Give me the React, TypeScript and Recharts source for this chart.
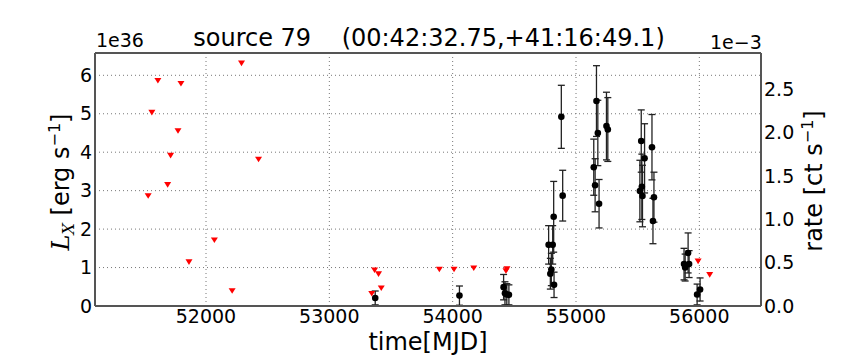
import {
  CartesianGrid,
  ComposedChart,
  ErrorBar,
  ReferenceLine,
  Scatter,
  XAxis,
  YAxis,
} from "recharts";

// upper limits (red triangles), L_X in 1e36 erg/s
const LIMIT_MJD = [
  51531, 51561, 51610, 51689, 51713, 51773, 51797, 51862, 52068, 52212, 52288,
  52426, 53344, 53367, 53399, 53421, 53892, 54011, 54171, 54432, 54440, 55990,
  56084,
];
const LIMIT_LX = [
  2.86, 5.03, 5.86, 3.15, 3.91, 4.55, 5.78, 1.14, 1.71, 0.39, 6.31, 3.81, 0.32,
  0.93, 0.83, 0.46, 0.95, 0.95, 0.98, 0.91, 0.96, 1.16, 0.81,
];

// detections with 1-sigma errors
const DET_MJD = [
  53372, 54055, 54413, 54424, 54439, 54456, 54778, 54811, 54792, 54800, 54819,
  54822, 54881, 54892, 55144, 55155, 55166, 55177, 55187, 55247, 55258, 55518,
  55529, 55534, 55539, 55556, 55616, 55624, 55632, 55876, 55885, 55909, 55917,
  55982, 56006,
];
const DET_LX = [
  0.21, 0.27, 0.49, 0.33, 0.3, 0.29, 1.59, 1.59, 0.84, 0.95, 2.32, 0.55, 4.92,
  2.87, 3.61, 3.14, 5.33, 4.5, 2.66, 4.68, 4.59, 2.99, 4.29, 3.1, 2.86, 3.84,
  4.13, 2.21, 2.83, 1.09, 1.0, 1.38, 1.09, 0.3, 0.43,
];
const DET_ERR = [
  0.18, 0.25, 0.33, 0.3, 0.28, 0.26, 0.5, 0.5, 0.4, 0.42, 0.92, 0.33, 0.82,
  0.66, 0.73, 0.69, 0.92, 0.85, 0.63, 0.88, 0.83, 0.8, 0.81, 0.85, 0.8, 0.9,
  0.85, 0.59, 0.65, 0.41, 0.35, 0.52, 0.35, 0.27, 0.3,
];

const X_TICKS = [52000, 53000, 54000, 55000, 56000];
const LX_TICKS = [0, 1, 2, 3, 4, 5, 6];
const RATE_TICKS = [0, 0.5, 1, 1.5, 2, 2.5];
const X_MIN = 51100;
const X_MAX = 56500;
const LX_MAX = 6.58;
const RATE_MAX = 2.915;

const limits = LIMIT_MJD.map((x, i) => ({ x, y: LIMIT_LX[i] }));
const detections = DET_MJD.map((x, i) => ({ x, y: DET_LX[i], err: DET_ERR[i] }));

const FONT = "'DejaVu Sans', sans-serif";
const FRAME = "#555";

function DownTriangle(props: any) {
  const { cx, cy } = props;
  if (cx == null || cy == null) return null;
  return (
    <polygon
      points={`${cx - 3.5},${cy - 2.8} ${cx + 3.5},${cy - 2.8} ${cx},${cy + 2.8}`}
      fill="#ff0000"
    />
  );
}

function Dot(props: any) {
  const { cx, cy } = props;
  if (cx == null || cy == null) return null;
  return <circle cx={cx} cy={cy} r={3.3} fill="#000" />;
}

const tickStyle = { fontFamily: FONT, fontSize: 19, fill: "#000" };

export default function App() {
  return (
    <div
      style={{
        position: "absolute",
        left: 0,
        top: 0,
        width: 864,
        height: 360,
        background: "#fff",
        fontFamily: FONT,
        color: "#000",
        lineHeight: 1,
      }}
    >
      <ComposedChart
        width={864}
        height={360}
        margin={{ top: 53, right: 0, bottom: 0, left: 0 }}
      >
        <CartesianGrid
          yAxisId="lx"
          stroke="#777"
          strokeDasharray="1 3"
          horizontalValues={LX_TICKS}
          verticalValues={X_TICKS}
        />
        <XAxis
          type="number"
          dataKey="x"
          domain={[X_MIN, X_MAX]}
          ticks={X_TICKS}
          allowDataOverflow
          height={54}
          tickSize={0}
          tickMargin={4}
          tick={tickStyle}
          axisLine={{ stroke: FRAME, strokeWidth: 2 }}
        />
        <YAxis
          yAxisId="lx"
          type="number"
          dataKey="y"
          domain={[0, LX_MAX]}
          ticks={LX_TICKS}
          allowDataOverflow
          width={95}
          tickSize={0}
          tickMargin={3}
          tick={tickStyle}
          axisLine={{ stroke: FRAME, strokeWidth: 2 }}
        />
        <YAxis
          yAxisId="rate"
          orientation="right"
          type="number"
          domain={[0, RATE_MAX]}
          ticks={RATE_TICKS}
          allowDataOverflow
          width={103}
          tickSize={0}
          tickMargin={3}
          tick={tickStyle}
          tickFormatter={(v: number) => v.toFixed(1)}
          axisLine={{ stroke: FRAME, strokeWidth: 2 }}
        />
        <ReferenceLine yAxisId="lx" y={LX_MAX} stroke={FRAME} strokeWidth={2} />
        <Scatter
          yAxisId="lx"
          data={limits}
          dataKey="y"
          shape={DownTriangle}
          isAnimationActive={false}
        />
        <Scatter
          yAxisId="lx"
          data={detections}
          dataKey="y"
          shape={Dot}
          isAnimationActive={false}
        >
          <ErrorBar
            dataKey="err"
            direction="y"
            width={3.5}
            stroke="#222"
            strokeWidth={1.3}
          />
        </Scatter>
      </ComposedChart>

      <div
        style={{
          position: "absolute",
          left: 429,
          top: 38,
          transform: "translate(-50%, -50%)",
          fontSize: 24,
          whiteSpace: "pre",
        }}
      >
        {"source 79    (00:42:32.75,+41:16:49.1)"}
      </div>
      <div style={{ position: "absolute", left: 96, top: 31, fontSize: 19 }}>1e36</div>
      <div style={{ position: "absolute", left: 710, top: 33, fontSize: 19 }}>1e−3</div>
      <div
        style={{
          position: "absolute",
          left: 428,
          top: 342,
          transform: "translate(-50%, -50%)",
          fontSize: 24,
          whiteSpace: "nowrap",
        }}
      >
        time[MJD]
      </div>
      <div
        style={{
          position: "absolute",
          left: 62,
          top: 182,
          transform: "translate(-50%, -50%) rotate(-90deg)",
          fontSize: 24,
          whiteSpace: "nowrap",
        }}
      >
        <span style={{ fontFamily: "'DejaVu Serif', serif", fontStyle: "italic" }}>L</span>
        <sub
          style={{
            fontFamily: "'DejaVu Serif', serif",
            fontStyle: "italic",
            fontSize: 16,
          }}
        >
          X
        </sub>{" "}
        [erg s<sup style={{ fontSize: 16 }}>−1</sup>]
      </div>
      <div
        style={{
          position: "absolute",
          left: 813,
          top: 181,
          transform: "translate(-50%, -50%) rotate(-90deg)",
          fontSize: 24,
          whiteSpace: "nowrap",
        }}
      >
        rate [ct s<sup style={{ fontSize: 16 }}>−1</sup>]
      </div>
    </div>
  );
}
